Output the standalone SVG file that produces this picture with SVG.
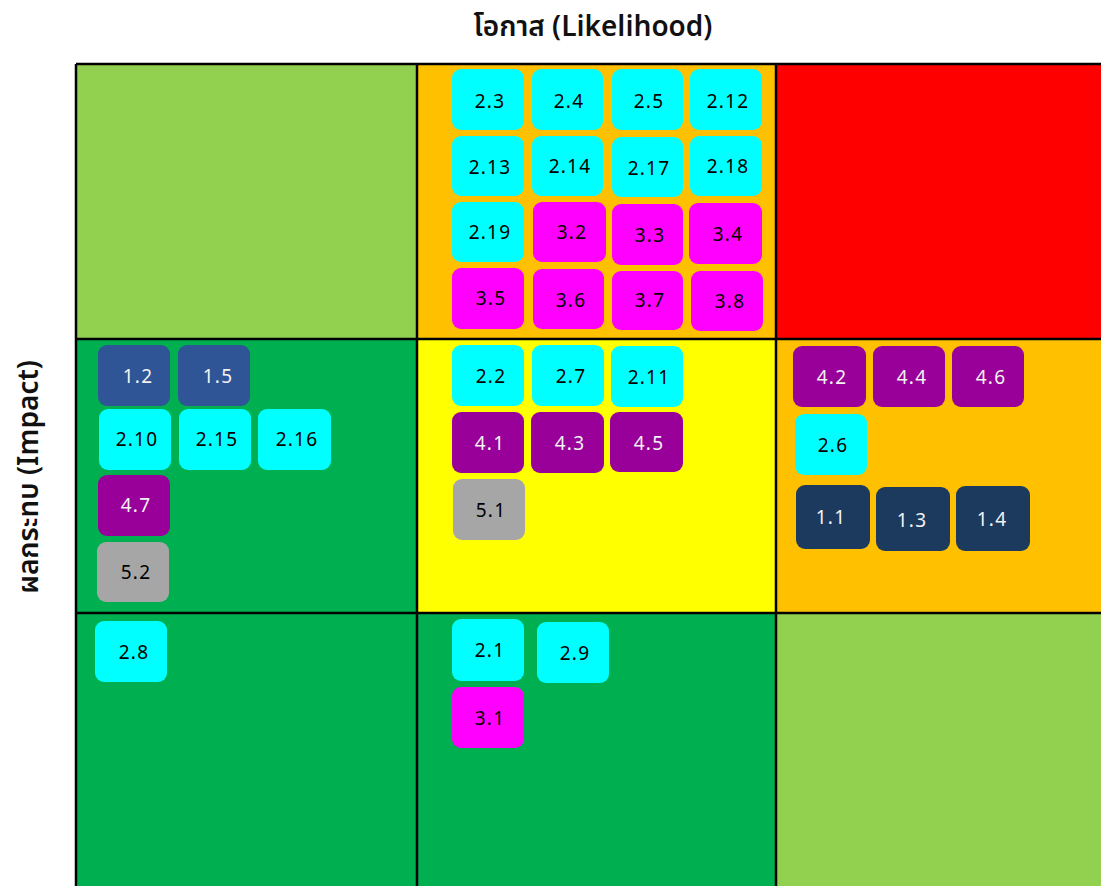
<svg xmlns="http://www.w3.org/2000/svg" width="1101" height="886" viewBox="0 0 1101 886">
<style>
.lbl{font-family:"Noto Sans","DejaVu Sans",sans-serif;font-size:19px;text-anchor:middle;letter-spacing:1.2px}
.dk{fill:#000}
.lt{fill:#f2f2f2}
.cy{fill:#00FFFF}
.mg{fill:#FF00FF}
.pu{fill:#990099}
.bl{fill:#2F5597}
.nv{fill:#1C3A5E}
.gr{fill:#A6A6A6}
.grid{stroke:#000;stroke-width:2.5;fill:none}
.title{font-family:"Noto Sans Thai","Noto Sans","DejaVu Sans",sans-serif;font-size:28px;font-weight:600;fill:#111;text-anchor:middle}
</style>
<rect width="1101" height="886" fill="#fff"/>
<g id="matrix">
<rect x="76" y="64" width="341" height="275" fill="#92D050"/>
<rect x="417" y="64" width="359" height="275" fill="#FFC000"/>
<rect x="776" y="64" width="325" height="275" fill="#FF0000"/>
<rect x="76" y="339" width="341" height="274" fill="#00B050"/>
<rect x="417" y="339" width="359" height="274" fill="#FFFF00"/>
<rect x="776" y="339" width="325" height="274" fill="#FFC000"/>
<rect x="76" y="613" width="341" height="273" fill="#00B050"/>
<rect x="417" y="613" width="359" height="273" fill="#00B050"/>
<rect x="776" y="613" width="325" height="273" fill="#92D050"/>
<path class="grid" d="M76,64H1101M76,339H1101M76,613H1101M76,64V886M417,64V886M776,64V886"/>
</g>
<text class="title" x="593" y="36">โอกาส (Likelihood)</text>
<text class="title" x="0" y="0" transform="translate(38,477) rotate(-90)">ผลกระทบ (Impact)</text>

<g id="n2_3"><rect class="cy" x="452" y="69" width="72" height="61" rx="9"/><text class="lbl dk" x="490" y="108">2.3</text></g>
<g id="n2_4"><rect class="cy" x="532" y="69" width="71" height="61" rx="9"/><text class="lbl dk" x="569" y="108">2.4</text></g>
<g id="n2_5"><rect class="cy" x="612" y="69" width="71" height="61" rx="9"/><text class="lbl dk" x="649" y="108">2.5</text></g>
<g id="n2_12"><rect class="cy" x="690" y="69" width="72" height="61" rx="9"/><text class="lbl dk" x="728" y="108">2.12</text></g>
<g id="n2_13"><rect class="cy" x="452" y="136" width="72" height="60" rx="9"/><text class="lbl dk" x="490" y="174">2.13</text></g>
<g id="n2_14"><rect class="cy" x="532" y="136" width="71" height="60" rx="9"/><text class="lbl dk" x="570" y="173">2.14</text></g>
<g id="n2_17"><rect class="cy" x="612" y="137" width="71" height="60" rx="9"/><text class="lbl dk" x="649" y="175">2.17</text></g>
<g id="n2_18"><rect class="cy" x="690" y="136" width="72" height="60" rx="9"/><text class="lbl dk" x="728" y="173">2.18</text></g>
<g id="n2_19"><rect class="cy" x="452" y="202" width="72" height="60" rx="9"/><text class="lbl dk" x="490" y="239">2.19</text></g>
<g id="n3_2"><rect class="mg" x="533" y="202" width="73" height="60" rx="9"/><text class="lbl dk" x="572" y="239">3.2</text></g>
<g id="n3_3"><rect class="mg" x="612" y="204" width="71" height="61" rx="9"/><text class="lbl dk" x="650" y="242">3.3</text></g>
<g id="n3_4"><rect class="mg" x="689" y="203" width="73" height="61" rx="9"/><text class="lbl dk" x="728" y="241">3.4</text></g>
<g id="n3_5"><rect class="mg" x="452" y="268" width="72" height="61" rx="9"/><text class="lbl dk" x="491" y="305">3.5</text></g>
<g id="n3_6"><rect class="mg" x="533" y="269" width="71" height="60" rx="9"/><text class="lbl dk" x="571" y="307">3.6</text></g>
<g id="n3_7"><rect class="mg" x="612" y="271" width="71" height="59" rx="9"/><text class="lbl dk" x="650" y="307">3.7</text></g>
<g id="n3_8"><rect class="mg" x="691" y="271" width="72" height="60" rx="9"/><text class="lbl dk" x="730" y="308">3.8</text></g>

<g id="n1_2"><rect class="bl" x="98" y="345" width="72" height="61" rx="9"/><text class="lbl lt" x="138" y="383">1.2</text></g>
<g id="n1_5"><rect class="bl" x="178" y="345" width="72" height="61" rx="9"/><text class="lbl lt" x="218" y="383">1.5</text></g>
<g id="n2_10"><rect class="cy" x="99" y="409" width="72" height="61" rx="9"/><text class="lbl dk" x="137" y="446">2.10</text></g>
<g id="n2_15"><rect class="cy" x="179" y="409" width="72" height="61" rx="9"/><text class="lbl dk" x="217" y="446">2.15</text></g>
<g id="n2_16"><rect class="cy" x="258" y="409" width="73" height="61" rx="9"/><text class="lbl dk" x="297" y="446">2.16</text></g>
<g id="n4_7"><rect class="pu" x="98" y="475" width="72" height="61" rx="9"/><text class="lbl lt" x="136" y="512">4.7</text></g>
<g id="n5_2"><rect class="gr" x="97" y="542" width="72" height="60" rx="9"/><text class="lbl dk" x="136" y="579">5.2</text></g>

<g id="n2_2"><rect class="cy" x="452" y="345" width="72" height="61" rx="9"/><text class="lbl dk" x="491" y="383">2.2</text></g>
<g id="n2_7"><rect class="cy" x="532" y="345" width="72" height="61" rx="9"/><text class="lbl dk" x="571" y="383">2.7</text></g>
<g id="n2_11"><rect class="cy" x="611" y="346" width="72" height="61" rx="9"/><text class="lbl dk" x="649" y="384">2.11</text></g>
<g id="n4_1"><rect class="pu" x="452" y="412" width="72" height="61" rx="9"/><text class="lbl lt" x="490" y="450">4.1</text></g>
<g id="n4_3"><rect class="pu" x="531" y="412" width="73" height="61" rx="9"/><text class="lbl lt" x="570" y="450">4.3</text></g>
<g id="n4_5"><rect class="pu" x="610" y="412" width="73" height="60" rx="9"/><text class="lbl lt" x="649" y="450">4.5</text></g>
<g id="n5_1"><rect class="gr" x="453" y="479" width="72" height="61" rx="9"/><text class="lbl dk" x="491" y="517">5.1</text></g>

<g id="n4_2"><rect class="pu" x="793" y="346" width="73" height="61" rx="9"/><text class="lbl lt" x="832" y="384">4.2</text></g>
<g id="n4_4"><rect class="pu" x="873" y="346" width="72" height="61" rx="9"/><text class="lbl lt" x="912" y="384">4.4</text></g>
<g id="n4_6"><rect class="pu" x="952" y="346" width="72" height="61" rx="9"/><text class="lbl lt" x="991" y="384">4.6</text></g>
<g id="n2_6"><rect class="cy" x="795" y="414" width="72" height="61" rx="9"/><text class="lbl dk" x="833" y="452">2.6</text></g>
<g id="n1_1"><rect class="nv" x="796" y="485" width="74" height="64" rx="9"/><text class="lbl lt" x="831" y="524">1.1</text></g>
<g id="n1_3"><rect class="nv" x="876" y="487" width="74" height="64" rx="9"/><text class="lbl lt" x="912" y="527">1.3</text></g>
<g id="n1_4"><rect class="nv" x="956" y="486" width="74" height="65" rx="9"/><text class="lbl lt" x="992" y="526">1.4</text></g>

<g id="n2_8"><rect class="cy" x="95" y="621" width="72" height="61" rx="9"/><text class="lbl dk" x="134" y="659">2.8</text></g>
<g id="n2_1"><rect class="cy" x="452" y="619" width="72" height="62" rx="9"/><text class="lbl dk" x="490" y="657">2.1</text></g>
<g id="n2_9"><rect class="cy" x="537" y="622" width="72" height="61" rx="9"/><text class="lbl dk" x="575" y="660">2.9</text></g>
<g id="n3_1"><rect class="mg" x="452" y="687" width="72" height="61" rx="9"/><text class="lbl dk" x="490" y="725">3.1</text></g>
</svg>
